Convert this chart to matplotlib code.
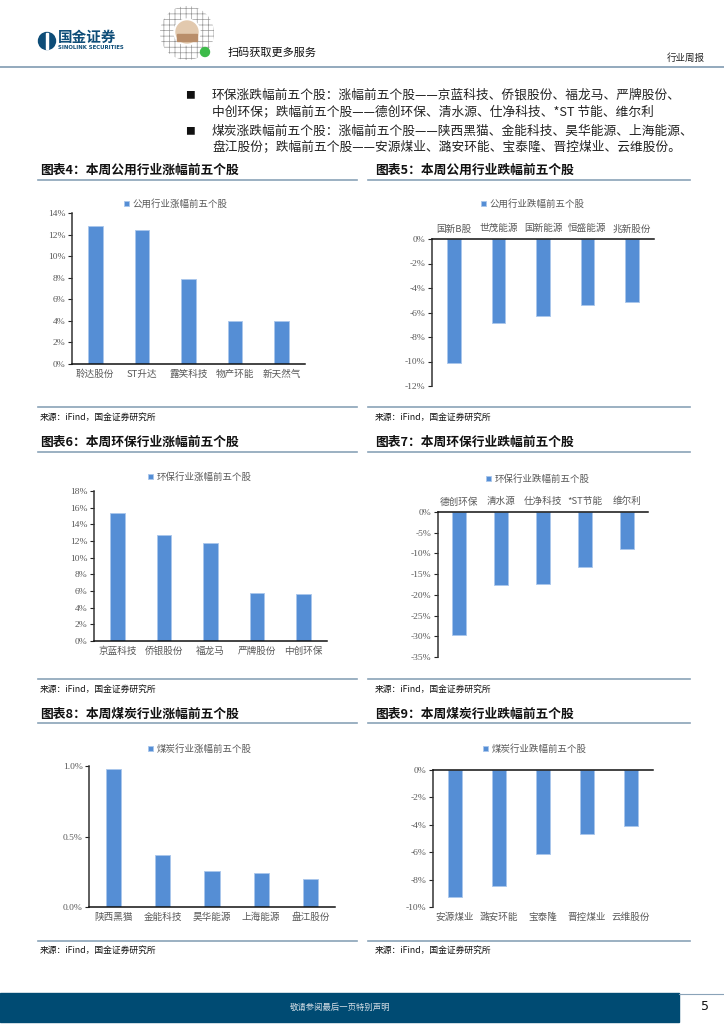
import numpy as np
import matplotlib
matplotlib.use("Agg")
import matplotlib.pyplot as plt
from matplotlib.patches import Rectangle, Circle

plt.rcParams['font.family'] = ['Noto Sans CJK SC', 'DejaVu Sans']
plt.rcParams['hatch.linewidth'] = 0.5

# ---------------- data ----------------
util_up_cats = ['聆达股份', 'ST升达', '露笑科技', '物产环能', '新天然气']
util_up_vals = [12.8, 12.4, 7.9, 4.0, 3.95]
util_down_cats = ['国新B股', '世茂能源', '国新能源', '恒盛能源', '兆新股份']
util_down_vals = [-10.15, -6.85, -6.25, -5.4, -5.15]
env_up_cats = ['京蓝科技', '侨银股份', '福龙马', '严牌股份', '中创环保']
env_up_vals = [15.4, 12.7, 11.8, 5.8, 5.7]
env_down_cats = ['德创环保', '清水源', '仕净科技', '*ST节能', '维尔利']
env_down_vals = [-29.8, -17.6, -17.4, -13.2, -9.05]
coal_up_cats = ['陕西黑猫', '金能科技', '昊华能源', '上海能源', '盘江股份']
coal_up_vals = [0.976, 0.367, 0.254, 0.240, 0.200]
coal_down_cats = ['安源煤业', '潞安环能', '宝泰隆', '晋控煤业', '云维股份']
coal_down_vals = [-9.29, -8.49, -6.13, -4.67, -4.11]

legend_labels = ['公用行业涨幅前五个股', '公用行业跌幅前五个股',
                 '环保行业涨幅前五个股', '环保行业跌幅前五个股',
                 '煤炭行业涨幅前五个股', '煤炭行业跌幅前五个股']
titles = ['图表4：本周公用行业涨幅前五个股', '图表5：本周公用行业跌幅前五个股',
          '图表6：本周环保行业涨幅前五个股', '图表7：本周环保行业跌幅前五个股',
          '图表8：本周煤炭行业涨幅前五个股', '图表9：本周煤炭行业跌幅前五个股']
source_text = '来源：iFind，国金证券研究所'
para_lines = [
    '环保涨跌幅前五个股：涨幅前五个股——京蓝科技、侨银股份、福龙马、严牌股份、',
    '中创环保；跌幅前五个股——德创环保、清水源、仕净科技、*ST 节能、维尔利',
    '煤炭涨跌幅前五个股：涨幅前五个股——陕西黑猫、金能科技、昊华能源、上海能源、',
    '盘江股份；跌幅前五个股——安源煤业、潞安环能、宝泰隆、晋控煤业、云维股份。',
]

# ---------------- figure ----------------
W, H = 724, 1024
fig = plt.figure(figsize=(W / 100, H / 100), dpi=100, facecolor='white')
bg = fig.add_axes([0, 0, 1, 1])
bg.set_xlim(0, W)
bg.set_ylim(H, 0)
bg.axis('off')

BAR = '#558ED5'
EDGE = '#A9C6EC'
LINEC = '#8AA3B8'
GRAY = '#595959'

# header
bg.add_patch(Circle((47, 41), 8.5, color='#0E4D78'))
bg.add_patch(Rectangle((46, 33), 2.2, 16, color='white'))
bg.text(58, 37, '国金证券', fontsize=10.5, fontweight='bold', color='#0E4D78', va='center')
bg.text(58, 47.5, 'SINOLINK SECURITIES', fontsize=3.9, fontweight='bold', color='#0E4D78',
        va='center', family=['DejaVu Sans'])
bg.add_patch(Circle((187, 33), 27, facecolor='white', edgecolor='#9a9a9a', hatch='+++', lw=0))
bg.add_patch(Circle((187, 32), 13, color='white'))
bg.add_patch(Circle((187, 32), 11, color='#E2C9AE'))
bg.add_patch(Rectangle((177, 34), 20, 7, color='#B98E6A'))
bg.add_patch(Circle((205, 52), 4.5, color='#3DBB4A'))
bg.text(228, 53, '扫码获取更多服务', fontsize=8, color='#111', va='center')
bg.text(705, 58, '行业周报', fontsize=6.8, color='#222', va='center', ha='right')
bg.plot([0, W], [67, 67], color=LINEC, lw=1.3)

# paragraphs
for y in (95, 131):
    bg.text(190, y, '■', fontsize=7, color='#111', va='center', ha='center')
for y, s in zip((95, 112, 131, 147), para_lines):
    bg.text(212, y, s, fontsize=9.15, color='#222', va='center')

# title/source rows
rows = [(170, 180, 407, 417), (442, 452, 679, 689), (714, 723, 941, 950)]
for (ty, tl, sl, sy) in rows:
    for x0, x1, tx in ((38, 357, 40), (368, 690, 375)):
        bg.plot([x0, x1], [tl, tl], color=LINEC, lw=1.2)
        bg.plot([x0, x1], [sl, sl], color=LINEC, lw=1.2)
        bg.text(tx, sy, source_text, fontsize=6.3, color='#111', va='center')

title_pos = [(40, 170), (375, 170), (40, 442), (375, 442), (40, 714), (375, 714)]
for (x, y), t in zip(title_pos, titles):
    bg.text(x, y, t, fontsize=9.2, fontweight='bold', color='#111', va='center')

# footer
bg.add_patch(Rectangle((0, 993), 679, 29, color='#004B73'))
bg.plot([679, W], [993.5, 993.5], color=LINEC, lw=0.8)
bg.text(340, 1007, '敬请参阅最后一页特别声明', fontsize=6, color='#D5DEE6', va='center', ha='center')
bg.text(705, 1007, '5', fontsize=9, color='#111', va='center', ha='center', family=['DejaVu Sans'])


def chart(box, cats, vals, ylim, ticks, fmt, label, leg_xy, negative, labels_top):
    l, t, r, b = box
    ax = fig.add_axes([l / W, 1 - b / H, (r - l) / W, (b - t) / H])
    x = np.arange(len(cats))
    ax.bar(x, vals, width=0.31, color=BAR, edgecolor=EDGE, linewidth=0.6, label=label, zorder=2)
    ax.set_xlim(-0.5, len(cats) - 0.5)
    ax.set_ylim(*ylim)
    ax.set_yticks(ticks)
    ax.set_yticklabels([fmt(v) for v in ticks], family=['Liberation Serif'], fontsize=6.8, color=GRAY)
    ax.set_xticks(x)
    ax.set_xticklabels(cats, fontsize=6.9, color=GRAY)
    ax.tick_params(axis='x', length=0, pad=4)
    ax.tick_params(axis='y', length=3, width=0.8, direction='out', pad=1.5, color='#222')
    ax.spines['right'].set_visible(False)
    if labels_top:
        ax.xaxis.tick_top()
    if negative:
        ax.spines['bottom'].set_visible(False)
        ax.spines['top'].set_color('#111')
        ax.spines['top'].set_linewidth(1.1)
    else:
        ax.spines['top'].set_visible(False)
        ax.spines['bottom'].set_color('#111')
        ax.spines['bottom'].set_linewidth(1.1)
    ax.spines['left'].set_color('#333')
    ax.spines['left'].set_linewidth(1.1)
    ax.set_facecolor('none')
    cx, cy = leg_xy
    ax.legend(loc='center', bbox_to_anchor=(cx / W, 1 - cy / H), bbox_transform=fig.transFigure,
              frameon=False, fontsize=6.8, handlelength=0.55, handleheight=0.55,
              handletextpad=0.4, borderpad=0, labelcolor=GRAY)
    return ax


pct0 = lambda v: f'{v:.0f}%'
pct1 = lambda v: f'{v:.1f}%'

chart((72, 213, 305, 364), util_up_cats, util_up_vals, (0, 14), list(range(0, 15, 2)), pct0,
      legend_labels[0], (176, 204), False, False)
chart((432, 239, 654, 386), util_down_cats, util_down_vals, (-12, 0), list(range(-12, 1, 2)), pct0,
      legend_labels[1], (533, 204), True, True)
chart((94, 491, 327, 641), env_up_cats, env_up_vals, (0, 18), list(range(0, 19, 2)), pct0,
      legend_labels[2], (200, 477), False, False)
chart((438, 512, 648, 657), env_down_cats, env_down_vals, (-35, 0), list(range(-35, 1, 5)), pct0,
      legend_labels[3], (538, 479), True, True)
chart((89, 766, 335, 907), coal_up_cats, coal_up_vals, (0, 1.0), [0.0, 0.5, 1.0], pct1,
      legend_labels[4], (200, 749), False, False)
chart((433, 770, 653, 907), coal_down_cats, coal_down_vals, (-10, 0), list(range(-10, 1, 2)), pct0,
      legend_labels[5], (535, 749), True, False)

fig.savefig('out.png', dpi=100, facecolor='white')
